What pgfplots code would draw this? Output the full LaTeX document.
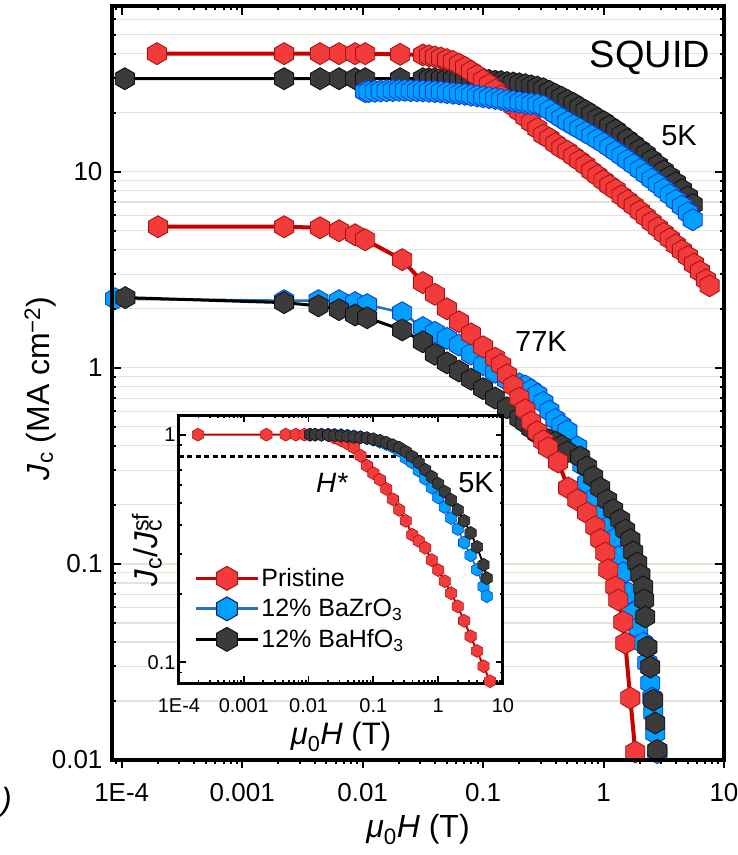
\documentclass[border=0pt]{standalone}
\usepackage{fontspec}
\setmainfont{Liberation Sans}
\usepackage{pgfplots}
\pgfplotsset{compat=1.18}
\definecolor{redfill}{HTML}{F43B3B}
\definecolor{rededge}{HTML}{A81414}
\definecolor{redline}{HTML}{C80000}
\definecolor{bluefill}{HTML}{00A0FF}
\definecolor{blueedge}{HTML}{0A3FD8}
\definecolor{blueline}{HTML}{2474B6}
\definecolor{blackfill}{HTML}{3B3B3B}
\definecolor{blackedge}{HTML}{121212}
\definecolor{gridc}{HTML}{E4E4D4}
\definecolor{navyedge}{HTML}{0B1F5C}
\newcommand{\fs}[1]{\fontsize{#1}{#1}\selectfont}
\pgfdeclareplotmark{hex}{%
  \pgfpathmoveto{\pgfpointpolar{90}{\pgfplotmarksize}}%
  \pgfpathlineto{\pgfpointpolar{150}{\pgfplotmarksize}}%
  \pgfpathlineto{\pgfpointpolar{210}{\pgfplotmarksize}}%
  \pgfpathlineto{\pgfpointpolar{270}{\pgfplotmarksize}}%
  \pgfpathlineto{\pgfpointpolar{330}{\pgfplotmarksize}}%
  \pgfpathlineto{\pgfpointpolar{30}{\pgfplotmarksize}}%
  \pgfpathclose
  \pgfusepathqfillstroke}
\pgfplotsset{
  pr/.style={redline, line width=4pt, line join=round, mark=hex, mark size=11pt,
    mark options={solid, fill=redfill, draw=rededge, line width=0.9pt}},
  zr/.style={blueline, line width=2.5pt, line join=round, mark=hex, mark size=11pt,
    mark options={solid, fill=bluefill, draw=blueedge, line width=0.9pt}},
  hf/.style={black, line width=3pt, line join=round, mark=hex, mark size=11pt,
    mark options={solid, fill=blackfill, draw=blackedge, line width=0.9pt}},
  prs/.style={redline, line width=2pt, line join=round, mark=hex, mark size=6.5pt,
    mark options={solid, fill=redfill, draw=rededge, line width=0.6pt}},
  zrs/.style={blueline, line width=1.8pt, line join=round, mark=hex, mark size=6.5pt,
    mark options={solid, fill=bluefill, draw=blueedge, line width=0.6pt}},
  hfs/.style={black, line width=1.8pt, line join=round, mark=hex, mark size=6.5pt,
    mark options={solid, fill=blackfill, draw=blackedge, line width=0.6pt}},
}
\begin{document}
\begin{tikzpicture}[x=1pt,y=1pt]
\useasboundingbox (0,0) rectangle (738,855);
% ---------- main plot: grid + data
\begin{axis}[at={(112pt,95pt)}, anchor=south west, width=612pt, height=754pt,
  scale only axis, xmode=log, ymode=log, xmin=8.3e-5, xmax=10, ymin=0.01, ymax=70,
  axis line style={draw=none},
  xtick={1e-4,1e-3,1e-2,1e-1,1,10}, xticklabels={},
  ytick={0.01,0.1,1,10}, yticklabels={0.01,0.1,1,10},
  minor ytick={0.02,0.03,0.04,0.05,0.06,0.07,0.08,0.09,0.2,0.3,0.4,0.5,0.6,0.7,0.8,0.9,2,3,4,5,6,7,8,9,20,30,40,50,60},
  major tick length=0pt, minor tick length=0pt,
  ymajorgrids, yminorgrids,
  major grid style={gridc, line width=1.2pt}, minor grid style={gridc, line width=1.2pt},
  yticklabel style={font=\fs{26}, xshift=-6pt},
  ylabel={\textit{J}\textsubscript{c} (MA cm\textsuperscript{−2})},
  ylabel style={font=\fs{32}, at={(axis description cs:-0.1176,0.493)}, anchor=center},
]
% 77K BaZrO3
\addplot[zr] coordinates {
(8.8e-5,2.25) (2.23e-3,2.2) (4.3e-3,2.2) (6.37e-3,2.2) (8.65e-3,2.15) (0.0109,2.1) (0.0213,1.91)
(0.0316,1.604) (0.0398,1.516) (0.0501,1.413) (0.0631,1.307) (0.0794,1.175) (0.1,1.038) (0.126,0.950)
(0.158,0.869) (0.2,0.828) (0.224,0.807) (0.251,0.77) (0.282,0.731) (0.316,0.667) (0.355,0.603)
(0.398,0.546) (0.447,0.509) (0.501,0.477) (0.605,0.395) (0.666,0.320) (0.732,0.259) (0.853,0.217)
(0.994,0.182) (1.094,0.1545) (1.204,0.133) (1.325,0.1086) (1.458,0.090) (1.604,0.0711) (1.765,0.0562)
(1.942,0.0472) (2.137,0.0395) (2.307,0.0313) (2.443,0.0247) (2.539,0.0207) (2.587,0.0174) (2.688,0.0137) (2.793,0.0109)
};
% 77K BaHfO3
\addplot[hf] coordinates {
(1.07e-4,2.28) (2.23e-3,2.15) (4.3e-3,2.07) (6.37e-3,1.98) (8.65e-3,1.86) (0.0109,1.80) (0.0213,1.56)
(0.0316,1.357) (0.0398,1.172) (0.0501,1.06) (0.0631,0.963) (0.0794,0.875) (0.1,0.783) (0.126,0.701)
(0.158,0.625) (0.2,0.552) (0.224,0.524) (0.251,0.491) (0.282,0.463) (0.316,0.442) (0.355,0.429)
(0.398,0.419) (0.447,0.40) (0.501,0.373) (0.640,0.351) (0.732,0.3126) (0.821,0.278) (0.939,0.244)
(1.073,0.212) (1.204,0.189) (1.376,0.168) (1.514,0.149) (1.667,0.133) (1.765,0.1151) (1.905,0.101)
(2.018,0.0879) (2.137,0.0763) (2.178,0.0655) (2.220,0.0537) (2.307,0.0377) (2.443,0.0298) (2.587,0.0202)
(2.688,0.01545) (2.793,0.0112)
};
% 77K Pristine
\addplot[pr] coordinates {
(2.0e-4,5.24) (2.23e-3,5.24) (4.43e-3,5.18) (6.37e-3,5.0) (8.65e-3,4.77) (0.0105,4.5) (0.0213,3.56)
(0.0316,2.72) (0.0398,2.37) (0.0501,2.0) (0.0631,1.72) (0.0794,1.49) (0.1,1.28) (0.126,1.12)
(0.141,1.036) (0.158,0.921) (0.178,0.809) (0.2,0.703) (0.224,0.611) (0.251,0.530) (0.282,0.472)
(0.316,0.424) (0.347,0.391) (0.420,0.331) (0.509,0.244) (0.605,0.212) (0.732,0.182) (0.853,0.1545)
(0.939,0.133) (1.033,0.1138) (1.094,0.0934) (1.251,0.0763) (1.325,0.0655) (1.458,0.0506) (1.514,0.0395)
(1.667,0.0207) (1.834,0.0110)
};
% 5K BaHfO3
\addplot[hf] coordinates {
(1.06e-4,29.8) (2.23e-3,29.8) (4.43e-3,29.8) (6.37e-3,29.8) (8.65e-3,29.8) (0.0105,29.8) (0.0205,29.8)
(0.0316,29.8) (0.0355,29.8) (0.0398,29.8) (0.0447,29.8) (0.0501,29.7) (0.0562,29.6) (0.0631,29.5)
(0.0708,29.5) (0.0794,29.5) (0.0891,29.3) (0.1,29.3) (0.112,29.2) (0.126,28.95) (0.141,28.8)
(0.158,28.5) (0.178,28.35) (0.2,28.1) (0.224,27.8) (0.251,27.4) (0.282,27.0) (0.316,26.5)
(0.355,25.7) (0.398,24.8) (0.447,24.0) (0.501,23.1) (0.562,22.3) (0.631,21.3) (0.708,20.5)
(0.794,19.6) (0.891,18.7) (1,18.0) (1.12,17.1) (1.26,16.3) (1.41,15.4) (1.58,14.6) (1.78,13.8)
(2.0,13.0) (2.24,12.3) (2.51,11.5) (2.82,10.8) (3.16,10.1) (3.55,9.44) (3.98,8.8) (4.47,8.1)
(5.01,7.45) (5.5,6.8)
};
% 5K Pristine
\addplot[pr] coordinates {
(1.96e-4,40) (2.23e-3,40) (4.43e-3,40) (6.37e-3,40) (8.65e-3,40) (0.0105,40) (0.0205,39.7)
(0.0316,39.4) (0.0355,39.0) (0.0398,38.5) (0.0447,38.0) (0.0501,37.3) (0.0562,36.5) (0.0631,35.4)
(0.0708,34.0) (0.0794,32.5) (0.0891,31.0) (0.1,29.3) (0.112,27.8) (0.126,26.1) (0.141,24.4)
(0.158,23.0) (0.178,21.6) (0.2,20.3) (0.224,19.0) (0.251,17.8) (0.282,16.6) (0.316,15.4)
(0.355,14.8) (0.398,13.9) (0.447,13.2) (0.501,12.7) (0.562,12.0) (0.631,11.4) (0.708,10.8)
(0.794,10.1) (0.891,9.55) (1,9.0) (1.12,8.5) (1.26,8.09) (1.41,7.54) (1.58,7.12) (1.78,6.71)
(2.0,6.29) (2.24,5.90) (2.51,5.53) (2.82,5.18) (3.16,4.85) (3.55,4.55) (3.98,4.24) (4.47,3.96)
(5.01,3.70) (5.62,3.38) (6.31,3.10) (7.08,2.81) (7.59,2.62)
};
% 5K BaZrO3
\addplot[zr] coordinates {
(0.0105,25.6) (0.0112,25.6) (0.0126,25.7) (0.0141,25.8) (0.0158,25.85) (0.0178,25.9) (0.02,26.0)
(0.0224,26.0) (0.0251,25.9) (0.0282,25.85) (0.0316,25.8) (0.0355,25.7) (0.0398,25.6) (0.0447,25.5)
(0.0501,25.3) (0.0562,25.1) (0.0631,24.95) (0.0708,24.8) (0.0794,24.55) (0.0891,24.33) (0.1,24.1)
(0.112,23.86) (0.126,23.63) (0.141,23.35) (0.158,23.1) (0.178,22.86) (0.2,22.62) (0.224,22.4)
(0.251,22.2) (0.282,22.0) (0.316,21.6) (0.355,20.6) (0.398,19.65) (0.447,18.75) (0.501,17.95)
(0.562,17.25) (0.631,16.57) (0.708,15.88) (0.794,15.26) (0.891,14.61) (1,13.98) (1.12,13.32)
(1.26,12.68) (1.41,12.05) (1.58,11.45) (1.78,10.86) (2.0,10.26) (2.24,9.71) (2.51,9.16) (2.82,8.64)
(3.16,8.13) (3.55,7.63) (3.98,7.15) (4.47,6.67) (5.01,6.18) (5.5,5.69)
};
\end{axis}
% ---------- main frame with inward ticks (top, left, right)
\begin{axis}[at={(112pt,95pt)}, anchor=south west, width=612pt, height=754pt,
  scale only axis, xmode=log, ymode=log, xmin=8.3e-5, xmax=10, ymin=0.01, ymax=70,
  axis line style={line width=3.5pt},
  tick align=inside, xtick pos=right, ytick pos=both,
  xtick={1e-4,1e-3,1e-2,1e-1,1,10}, xticklabels={},
  minor xtick={9e-5,2e-4,3e-4,4e-4,5e-4,6e-4,7e-4,8e-4,9e-4,0.002,0.003,0.004,0.005,0.006,0.007,0.008,0.009,0.02,0.03,0.04,0.05,0.06,0.07,0.08,0.09,0.2,0.3,0.4,0.5,0.6,0.7,0.8,0.9,2,3,4,5,6,7,8,9},
  ytick={0.01,0.1,1,10}, yticklabels={},
  minor ytick={0.02,0.03,0.04,0.05,0.06,0.07,0.08,0.09,0.2,0.3,0.4,0.5,0.6,0.7,0.8,0.9,2,3,4,5,6,7,8,9,20,30,40,50,60},
  major tick length=9pt, minor tick length=4.5pt,
  tick style={line width=2pt, black},
]
\end{axis}
% ---------- bottom outward ticks and labels
\begin{axis}[at={(112pt,95pt)}, anchor=south west, width=612pt, height=754pt,
  scale only axis, xmode=log, ymode=log, xmin=8.3e-5, xmax=10, ymin=0.01, ymax=70,
  hide y axis,
  axis line style={line width=3.5pt},
  tick align=outside, xtick pos=left,
  xtick={1e-4,1e-3,1e-2,1e-1,1,10}, xticklabels={1E-4,0.001,0.01,0.1,1,10},
  minor xtick={9e-5,2e-4,3e-4,4e-4,5e-4,6e-4,7e-4,8e-4,9e-4,0.002,0.003,0.004,0.005,0.006,0.007,0.008,0.009,0.02,0.03,0.04,0.05,0.06,0.07,0.08,0.09,0.2,0.3,0.4,0.5,0.6,0.7,0.8,0.9,2,3,4,5,6,7,8,9},
  major tick length=8pt, minor tick length=4pt,
  tick style={line width=2pt, black},
  xticklabel style={font=\fs{26}, yshift=-12pt},
  xlabel={\textit{μ}\textsubscript{0}\textit{H} (T)},
  xlabel style={font=\fs{32}, at={(axis description cs:0.5,-0.0928)}, anchor=center},
]
\end{axis}
% ---------- inset
\begin{axis}[
  at={(179pt,172pt)}, anchor=south west, width=324pt, height=268pt, scale only axis,
  xmode=log, ymode=log, xmin=1e-4, xmax=10, ymin=0.081, ymax=1.22,
  axis background/.style={fill=white},
  axis on top,
  axis line style={line width=3pt},
  tick align=inside,
  xtick={1e-4,1e-3,1e-2,1e-1,1,10}, xticklabels={1E-4,0.001,0.01,0.1,1,10},
  minor xtick={2e-4,3e-4,4e-4,5e-4,6e-4,7e-4,8e-4,9e-4,0.002,0.003,0.004,0.005,0.006,0.007,0.008,0.009,0.02,0.03,0.04,0.05,0.06,0.07,0.08,0.09,0.2,0.3,0.4,0.5,0.6,0.7,0.8,0.9,2,3,4,5,6,7,8,9},
  ytick={0.1,1}, yticklabels={0.1,1},
  minor ytick={0.09,0.2,0.3,0.4,0.5,0.6,0.7,0.8,0.9},
  major tick length=7pt, minor tick length=3.5pt,
  tick style={line width=1.8pt, black},
  xticklabel style={font=\fs{20}, yshift=-12pt},
  yticklabel style={font=\fs{20}},
  xlabel={\textit{μ}\textsubscript{0}\textit{H} (T)},
  xlabel style={font=\fs{31}, at={(axis description cs:0.5,-0.2015)}, anchor=center},
  ylabel={\textit{J}\textsubscript{c}/\textit{J}\rlap{\textsubscript{c}}\textsuperscript{sf}},
  ylabel style={font=\fs{33}, at={(axis description cs:-0.099,0.496)}, anchor=center},
  legend image code/.code={\draw[mark repeat=2,mark phase=2,#1] plot coordinates {(0pt,0pt) (31pt,0pt) (62pt,0pt)};},
  legend style={at={(0.047,0.436)}, anchor=north west, draw=none, fill=none,
    font=\fs{25}, row sep=6.5pt, inner sep=0pt},
  legend cell align=left,
]
\addplot[black, line width=3pt, dash pattern=on 5pt off 3.5pt, forget plot] coordinates {(1e-4,0.8) (10,0.8)};
\addplot[prs, forget plot] coordinates {
(1.96e-4,1) (2.23e-3,1) (4.43e-3,1) (6.37e-3,1) (8.65e-3,1) (0.0105,1) (0.0205,0.995)
(0.0251,0.97) (0.0316,0.945) (0.0398,0.915) (0.0501,0.877) (0.0631,0.808) (0.0794,0.730) (0.1,0.677)
(0.126,0.634) (0.158,0.578) (0.2,0.520) (0.251,0.467) (0.316,0.418) (0.398,0.363) (0.501,0.341)
(0.631,0.318) (0.794,0.281) (1,0.254) (1.26,0.227) (1.58,0.201) (2.0,0.176) (2.51,0.152)
(3.16,0.130) (3.98,0.112) (5.01,0.096) (6.31,0.0825)
};
\addplot[zrs, forget plot] coordinates {
(0.0105,1.0) (0.0126,1.0) (0.0158,1.0) (0.02,1.0) (0.0251,0.998) (0.0316,0.995) (0.0398,0.99)
(0.0501,0.983) (0.0631,0.975) (0.0794,0.965) (0.1,0.95) (0.126,0.93) (0.158,0.91) (0.2,0.885)
(0.251,0.85) (0.316,0.79) (0.398,0.755) (0.501,0.695) (0.631,0.64) (0.794,0.585) (1,0.53)
(1.26,0.48) (1.58,0.43) (2.0,0.385) (2.51,0.335) (3.16,0.295) (3.98,0.255) (5.01,0.215) (5.62,0.195)
};
\addplot[hfs, forget plot] coordinates {
(0.0105,1.0) (0.0126,1.0) (0.0158,0.998) (0.02,0.996) (0.0251,0.993) (0.0316,0.99) (0.0398,0.983)
(0.0501,0.977) (0.0631,0.972) (0.0794,0.965) (0.1,0.955) (0.126,0.941) (0.158,0.922) (0.2,0.899)
(0.251,0.876) (0.316,0.842) (0.398,0.80) (0.501,0.753) (0.631,0.701) (0.794,0.653) (1,0.608)
(1.26,0.561) (1.58,0.517) (2.0,0.467) (2.51,0.418) (3.16,0.370) (3.98,0.321) (5.01,0.268) (5.62,0.234)
};
\addlegendimage{redline, line width=3pt, mark=hex, mark size=12pt, mark options={solid, fill=redfill, draw=rededge, line width=1pt}}
\addlegendentry{Pristine}
\addlegendimage{blueline, line width=3pt, mark=hex, mark size=12pt, mark options={solid, fill=bluefill, draw=navyedge, line width=1pt}}
\addlegendentry{12\% BaZrO\textsubscript{3}}
\addlegendimage{black, line width=3pt, mark=hex, mark size=12pt, mark options={solid, fill=blackfill, draw=blackedge, line width=1pt}}
\addlegendentry{12\% BaHfO\textsubscript{3}}
\end{axis}
% ---------- annotations
\node[font=\fs{38}] at (650,797) {SQUID};
\node[font=\fs{29}] at (679,719) {5K};
\node[font=\fs{29}] at (541,513) {77K};
\node[font=\fs{29}] at (476,372) {5K};
\node[font=\fs{28}] at (332,372) {\textit{H*}};
\node[font=\fs{32}\itshape, anchor=east, inner sep=0pt] at (12,53) {b)};
\end{tikzpicture}
\end{document}
